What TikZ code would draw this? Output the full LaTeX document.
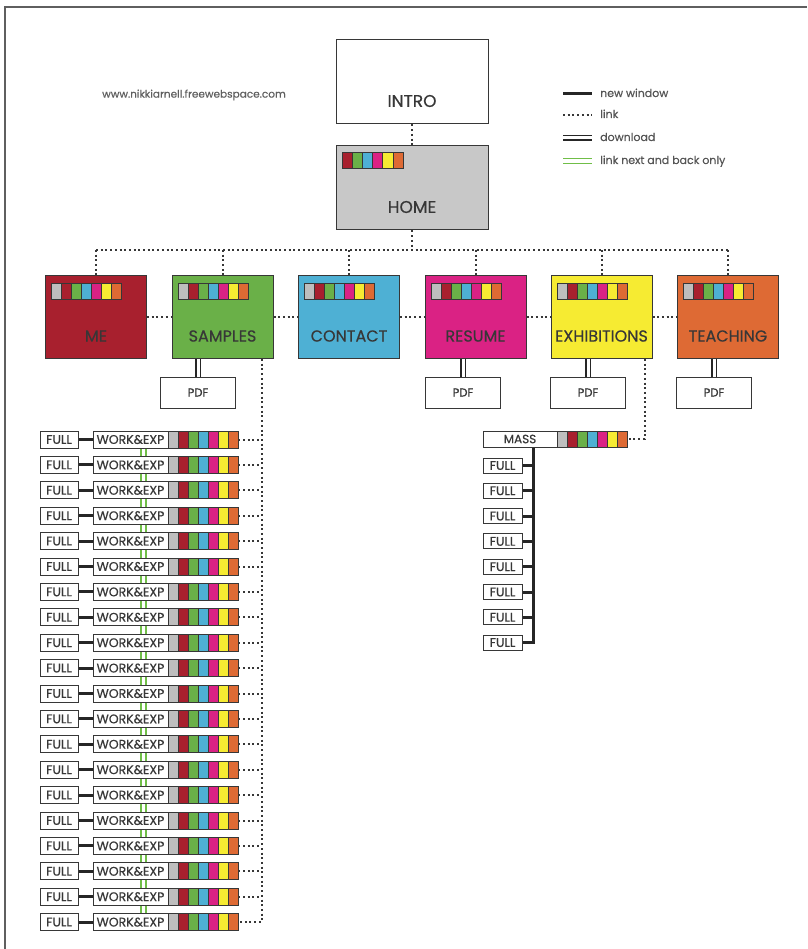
\documentclass[tikz,border=0pt]{standalone}
\usepackage{fontspec}
\setmainfont{Poppins}[UprightFeatures={FakeBold=0.45}]
\usetikzlibrary{positioning}

\definecolor{meRed}{RGB}{168,32,46}
\definecolor{smpGreen}{RGB}{106,176,72}
\definecolor{conBlue}{RGB}{78,176,212}
\definecolor{resPink}{RGB}{218,34,132}
\definecolor{exhYellow}{RGB}{246,235,50}
\definecolor{tchOrange}{RGB}{222,106,52}
\definecolor{homeGray}{RGB}{200,200,200}
\definecolor{swGray}{RGB}{190,190,190}
\definecolor{inkGray}{RGB}{55,55,55}
\definecolor{linkGreen}{RGB}{112,190,72}

\tikzset{
  lvl/.style={draw=inkGray, line width=1pt, minimum width=101pt, minimum height=83pt, inner sep=0pt},
  bigtxt/.style={text=inkGray, inner sep=0pt, font=\fontsize{16}{18}\selectfont},
  pdfbox/.style={draw=inkGray, fill=white, line width=1pt, minimum width=75pt, minimum height=31pt, inner sep=0pt, text=inkGray, font=\fontsize{11.5}{13}\selectfont},
  fullbox/.style={draw=inkGray, fill=white, line width=1pt, minimum width=38pt, minimum height=17pt, inner sep=0pt, text=inkGray, font=\fontsize{12.5}{13}\selectfont},
  workbox/.style={fullbox, minimum width=75pt},
  swatch/.style={draw=inkGray, line width=0.7pt, minimum width=10pt, inner sep=0pt},
  link/.style={inkGray, line width=2pt, dash pattern=on 2pt off 2.7pt},
  newwin/.style={black!85, line width=3pt},
  download/.style={black!85, line width=1.6pt, double=white, double distance=3pt},
  nextback/.style={linkGreen, line width=1.4pt, double=white, double distance=3.5pt},
  legtxt/.style={text=inkGray!85, inner sep=0pt, text height=8pt, text depth=2pt, font=\fontsize{11}{13}\selectfont},
  frame/.style={inkGray!80, line width=2pt}
}

% colour strip: name, left x, centre y, height
\newcommand{\swatches}[4]{%
  \foreach \c [count=\k] in {swGray,meRed,smpGreen,conBlue,resPink,exhYellow,tchOrange}
    \node[swatch, fill=\c, minimum height=#4] (#1-\k) at ({#2+10*\k-5},#3) {};
}

\begin{document}
\begin{tikzpicture}[x=1pt, y=-1pt]
    \useasboundingbox (0,0) rectangle (807,949);
    \draw[frame] (5,949) -- (5,7) -- (807,7);

    % Intro and home
    \node[lvl, minimum width=152pt, minimum height=84pt] (intro) at (412,82) {};
    \node[bigtxt, font=\fontsize{17}{19}\selectfont] (intro-t) at ([yshift=-19pt]intro.center) {INTRO};
    \node[lvl, fill=homeGray, minimum width=152pt, minimum height=84pt] (home) at (412,188) {};
    \node[bigtxt, font=\fontsize{17}{19}\selectfont] (home-t) at ([yshift=-19pt]home.center) {HOME};
    \foreach \c [count=\k] in {meRed,smpGreen,conBlue,resPink,exhYellow,tchOrange}
        \node[swatch, fill=\c, minimum width=10.2pt, minimum height=16pt] (home-sw-\k) at ({336.9+10.2*\k},160) {};

    \node[text=inkGray!80, inner sep=0pt, font=\fontsize{10.5}{12}\selectfont] (url) at (194,95) {www.nikkiarnell.freewebspace.com};

    % Legend
    \foreach \s/\y/\t in {newwin/94/new window, link/115/link, download/138/download, nextback/161/link next and back only}{
        \coordinate (lg-\y) at (563,\y);
        \coordinate (lge-\y) at (592,\y);
        \node[legtxt, anchor=west] (lgt-\y) at (600,\y) {\t};
        \draw[\s] (lg-\y) -- (lge-\y);
    }

    % Sections
    \foreach \n/\x/\c/\t in {me/96/meRed/ME, smp/222.5/smpGreen/SAMPLES, con/349/conBlue/CONTACT, res/475.5/resPink/RESUME, exh/601.5/exhYellow/EXHIBITIONS, tch/728/tchOrange/TEACHING}{
        \node[lvl, fill=\c] (\n) at (\x,317) {};
        \node[bigtxt] (\n-t) at ([yshift=-19pt]\n.center) {\t};
        \swatches{\n-sw}{\x-44.5}{291}{16pt}
    }

    % Links from home
    \coordinate (bus) at (412,250);
    \draw[link] (intro) -- (home);
    \draw[link] (home) -- (bus);
    \draw[link] (me.north |- bus) -- (tch.north |- bus);
    \foreach \n in {me,smp,con,res,exh,tch}
        \draw[link] (\n.north |- bus) -- (\n.north);
    \draw[link] (me) -- (smp);
    \draw[link] (smp) -- (con);
    \draw[link] (con) -- (res);
    \draw[link] (res) -- (exh);
    \draw[link] (exh) -- (tch);

    % Downloads
    \foreach \n/\x in {smp/198, res/463, exh/588, tch/714}{
        \node[pdfbox] (\n-pdf) at (\x,392.5) {PDF};
        \draw[download] (\n-pdf.north) -- (\n-pdf.north |- \n.south);
    }

    % Samples pages
    \foreach \i in {1,...,20}{
        \pgfmathsetmacro{\y}{439.5+25.4*(\i-1)}
        \node[fullbox] (full\i) at (59,\y) {FULL};
        \node[workbox] (work\i) at (130.5,\y) {WORK\&EXP};
        \swatches{w\i}{168}{\y}{17pt}
        \draw[newwin] (full\i) -- (work\i);
    }
    \coordinate (smpdrop) at ([xshift=-12pt]smp.south east);
    \draw[link] (smpdrop) |- (w20-7.east);
    \foreach \i in {1,...,19}
        \draw[link] (w\i-7.east) -- (w\i-7.east -| smpdrop);
    \foreach \i [evaluate=\i as \j using int(\i+1)] in {1,...,19}
        \draw[nextback] ([xshift=13pt]work\i.south) -- ([xshift=13pt]work\j.north);

    % Exhibitions pages
    \node[fullbox, minimum width=74pt, minimum height=16pt, font=\fontsize{12}{13}\selectfont] (mass) at (520,439) {MASS};
    \swatches{mass-sw}{557}{439}{16pt}
    \draw[link] ([xshift=-8pt]exh.south east) |- (mass-sw-7.east);
    \foreach \i in {1,...,8}{
        \pgfmathsetmacro{\y}{465.5+25.3*(\i-1)}
        \node[fullbox, minimum width=39pt, minimum height=15pt] (mf\i) at (502.5,\y) {FULL};
    }
    \coordinate (mtrunk) at ([xshift=13pt]mass.south);
    \draw[newwin] (mtrunk) |- (mf8.east);
    \foreach \i in {1,...,7}
        \draw[newwin] (mf\i.east) -- (mf\i.east -| mtrunk);
\end{tikzpicture}
\end{document}
